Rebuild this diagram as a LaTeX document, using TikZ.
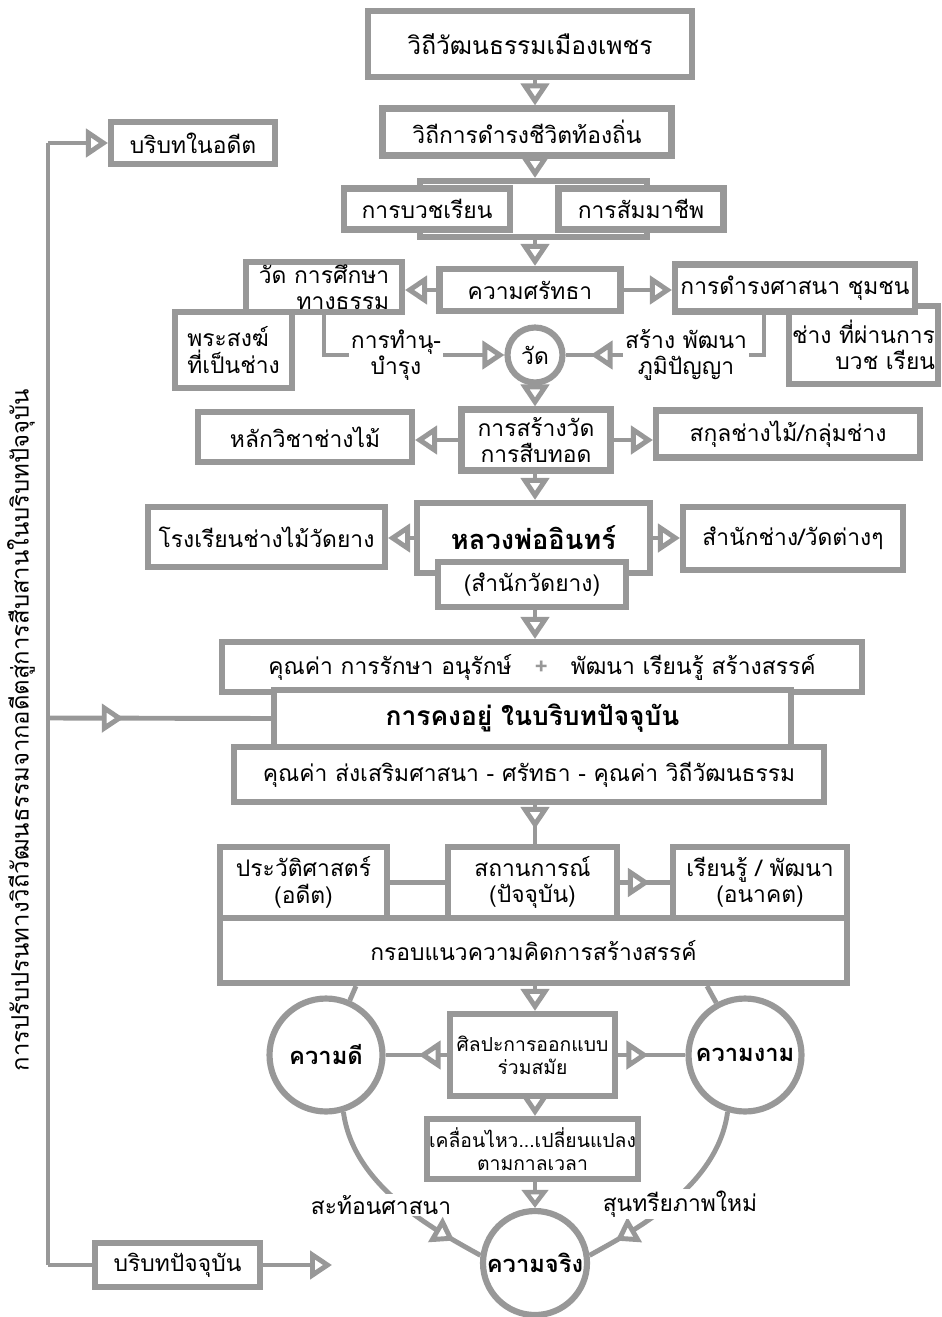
\documentclass[tikz,border=0pt]{standalone}
\usepackage{fontspec}
\setmainfont{Loma}[Script=Thai]
\usepackage{tikz}
\usetikzlibrary{positioning,arrows.meta,decorations.markings}
\usepackage{xcolor}
\definecolor{linegray}{RGB}{152,152,152}

\begin{document}
\begin{tikzpicture}[x=0.02cm, y=-0.02cm, font=\fontsize{13}{15}\selectfont,
      box/.style={draw=linegray, line width=3.5pt, fill=white, align=center, inner sep=1pt},
      ring/.style={circle, draw=linegray, line width=3.5pt, fill=white, inner sep=0pt,
                   font=\fontsize{13.5}{16}\selectfont\bfseries},
      lbl/.style={fill=white, inner sep=1pt, align=center},
      link/.style={draw=linegray, line width=2.8pt},
      flow/.style={link, -{Triangle[fill=white, length=0.44cm, width=0.56cm]}},
      midflow/.style={link, postaction={decorate}, decoration={markings,
                      mark=at position #1 with {\arrow{Triangle[fill=white, length=0.44cm, width=0.56cm]}}}}]
    \useasboundingbox (0,0) rectangle (942,1317);
    \coordinate (axis) at (535,0);
    \coordinate (spineT) at (48,143);
    \coordinate (spineM) at (48,718);
    \coordinate (spineB) at (48,1265);
    \coordinate (nowEnd) at (332,1265);
    \node[rotate=90, font=\fontsize{13.6}{16}\selectfont] (spineTxt) at (21,730) {การปรับปรนทางวิถีวัฒนธรรมจากอดีตสู่การสืบสานในบริบทปัจจุบัน};

    \node[box, minimum width=6.48cm, minimum height=1.32cm, font=\fontsize{14}{16}\selectfont] (root) at (530,44) {วิถีวัฒนธรรมเมืองเพชร};
    \node[box, minimum width=5.78cm, minimum height=0.94cm] (life) at (527,132) {วิถีการดำรงชีวิตท้องถิ่น};
    \node[box, fill=none, minimum width=4.54cm, minimum height=1.12cm] (pair) at (533.5,209) {};
    \node[box, minimum width=3.32cm, minimum height=0.82cm] (ordain) at (427,209) {การบวชเรียน};
    \node[box, minimum width=3.3cm, minimum height=0.82cm] (career) at (641,209) {การสัมมาชีพ};

    \node[box, minimum width=2.34cm, minimum height=1.52cm, align=left] (monk) at (233.5,350) {พระสงฆ์\\ที่เป็นช่าง};
    \node[box, minimum width=2.98cm, minimum height=1.56cm, align=right] (artisan) at (863.5,345) {ช่าง ที่ผ่านการ\\บวช เรียน};
    \node[box, minimum width=3.12cm, minimum height=1.0cm, align=right] (study) at (324,287) {วัด การศึกษา\\ทางธรรม};
    \node[box, minimum width=3.62cm, minimum height=0.84cm] (faith) at (530,290) {ความศรัทธา};
    \node[box, minimum width=4.8cm, minimum height=0.94cm] (community) at (795,288) {การดำรงศาสนา ชุมชน};
    \node[ring, minimum size=1.1cm, font=\fontsize{13}{15}\selectfont] (wat) at (535,355) {วัด};
    \node[lbl] (nurture) at (396,355) {การทำนุ-\\บำรุง};
    \node[lbl] (wisdom) at (686,355) {สร้าง พัฒนา\\ภูมิปัญญา};

    \node[box, minimum width=2.98cm, minimum height=1.22cm] (build) at (536,440) {การสร้างวัด\\การสืบทอด};
    \node[box, minimum width=4.28cm, minimum height=1.0cm] (carpentry) at (305,437) {หลักวิชาช่างไม้};
    \node[box, minimum width=5.28cm, minimum height=0.94cm] (lineage) at (788,434) {สกุลช่างไม้/กลุ่มช่าง};

    \node[box, minimum width=4.66cm, minimum height=1.4cm, font=\fontsize{15.5}{18}\selectfont\bfseries] (luang) at (533.5,538) {หลวงพ่ออินทร์};
    \node[box, minimum width=3.76cm, minimum height=0.9cm] (yang) at (532,584.5) {(สำนักวัดยาง)};
    \node[box, minimum width=4.74cm, minimum height=1.2cm] (school) at (266.5,537) {โรงเรียนช่างไม้วัดยาง};
    \node[box, minimum width=4.4cm, minimum height=1.26cm] (shops) at (793,538.5) {สำนักช่าง/วัดต่างๆ};

    \node[box, minimum width=12.8cm, minimum height=1.0cm] (values) at (542,667) {คุณค่า การรักษา อนุรักษ์\quad{\color{linegray}\bfseries +}\quad พัฒนา เรียนรู้ สร้างสรรค์};
    \node[box, minimum width=10.34cm, minimum height=1.14cm, font=\fontsize{15}{18}\selectfont\bfseries] (exist) at (532.5,718.5) {การคงอยู่ ในบริบทปัจจุบัน};
    \node[box, minimum width=11.8cm, minimum height=1.1cm] (promote) at (529,774.5) {คุณค่า ส่งเสริมศาสนา - ศรัทธา - คุณค่า วิถีวัฒนธรรม};

    \node[box, minimum width=12.54cm, minimum height=1.3cm] (frame) at (533.5,950.5) {กรอบแนวความคิดการสร้างสรรค์};
    \node[box, minimum width=3.34cm, minimum height=1.42cm] (history) at (303.5,882.5) {ประวัติศาสตร์\\(อดีต)};
    \node[box, minimum width=3.38cm, minimum height=1.42cm] (situation) at (532.5,882.5) {สถานการณ์\\(ปัจจุบัน)};
    \node[box, minimum width=3.48cm, minimum height=1.42cm] (future) at (760,882.5) {เรียนรู้ / พัฒนา\\(อนาคต)};

    \node[ring, minimum size=2.26cm] (good) at (326,1055) {ความดี};
    \node[ring, minimum size=2.26cm] (beauty) at (745,1055) {ความงาม};
    \node[ring, minimum size=2.08cm] (truth) at (535,1263) {ความจริง};
    \node[box, minimum width=3.3cm, minimum height=1.64cm, font=\fontsize{11}{13}\selectfont] (design) at (532.5,1055) {ศิลปะการออกแบบ\\ร่วมสมัย};
    \node[box, minimum width=4.14cm, minimum height=1.2cm, font=\fontsize{11}{13}\selectfont] (motion) at (532.5,1149) {เคลื่อนไหว...เปลี่ยนแปลง\\ตามกาลเวลา};

    \node[box, minimum width=3.28cm, minimum height=0.84cm] (past) at (193,143) {บริบทในอดีต};
    \node[box, minimum width=3.3cm, minimum height=0.88cm] (present) at (177.5,1265) {บริบทปัจจุบัน};

    \draw[flow] (root.south -| axis) -- (life.north -| axis);
    \draw[flow] (life.south -| axis) -- (pair.north -| axis);
    \draw[flow] (pair.south -| axis) -- (faith.north -| axis);
    \draw[flow] (faith.west) -- (faith.west -| study.east);
    \draw[flow] (faith.east) -- (faith.east -| community.west);
    \draw[link] (study.south) |- (nurture.west);
    \draw[flow] (nurture.east) -- (wat.west);
    \draw[link] (community.south -| 764,0) |- (wisdom.east);
    \draw[midflow=-0.5cm] (wisdom.west) -- (wat.east);
    \draw[flow] (wat.south) -- (build.north -| wat.south);
    \draw[flow] (build.west) -- (build.west -| carpentry.east);
    \draw[flow] (build.east) -- (build.east -| lineage.west);
    \draw[flow] (build.south -| axis) -- (luang.north -| axis);
    \draw[flow] (luang.west) -- (luang.west -| school.east);
    \draw[flow] (luang.east) -- (luang.east -| shops.west);
    \draw[flow] (yang.south -| axis) -- (values.north -| axis);
    \draw[midflow=-0.3cm] (promote.south -| axis) -- (situation.north -| axis);
    \draw[link] (history.east) -- (situation.west);
    \draw[midflow=-0.4cm] (situation.east) -- (future.west);

    \draw[link] (spineT) -- (spineB);
    \draw[flow] (spineT) -- (past.west);
    \draw[midflow=0.34] (spineM) -- (exist.west);
    \draw[link] (spineB) -- (present.west);
    \draw[flow] (present.east) -- (nowEnd);

    \draw[link] (frame.south -| 356,0) -- (good);
    \draw[link] (frame.south -| 707,0) -- (beauty);
    \draw[flow] (frame.south -| axis) -- (design.north -| axis);
    \draw[midflow=-0.66cm] (design.west) -- (good.east);
    \draw[midflow=-0.74cm] (design.east) -- (beauty.west);
    \draw[flow] (design.south -| axis) -- (motion.north -| axis);
    \draw[link, -{Triangle[fill=white, length=0.36cm, width=0.52cm]}] (motion.south -| axis) -- (truth.north);
    \draw[midflow=-0.6cm] (good.-73) .. controls +(10,75) and +(-45,-25) .. (truth.172);
    \draw[midflow=-0.6cm] (beauty.-107) .. controls +(-10,75) and +(45,-25) .. (truth.8);
    \node[lbl] (reflect) at (381,1205) {สะท้อนศาสนา};
    \node[lbl] (aesthetic) at (680,1204) {สุนทรียภาพใหม่};
  \end{tikzpicture}
\end{document}
